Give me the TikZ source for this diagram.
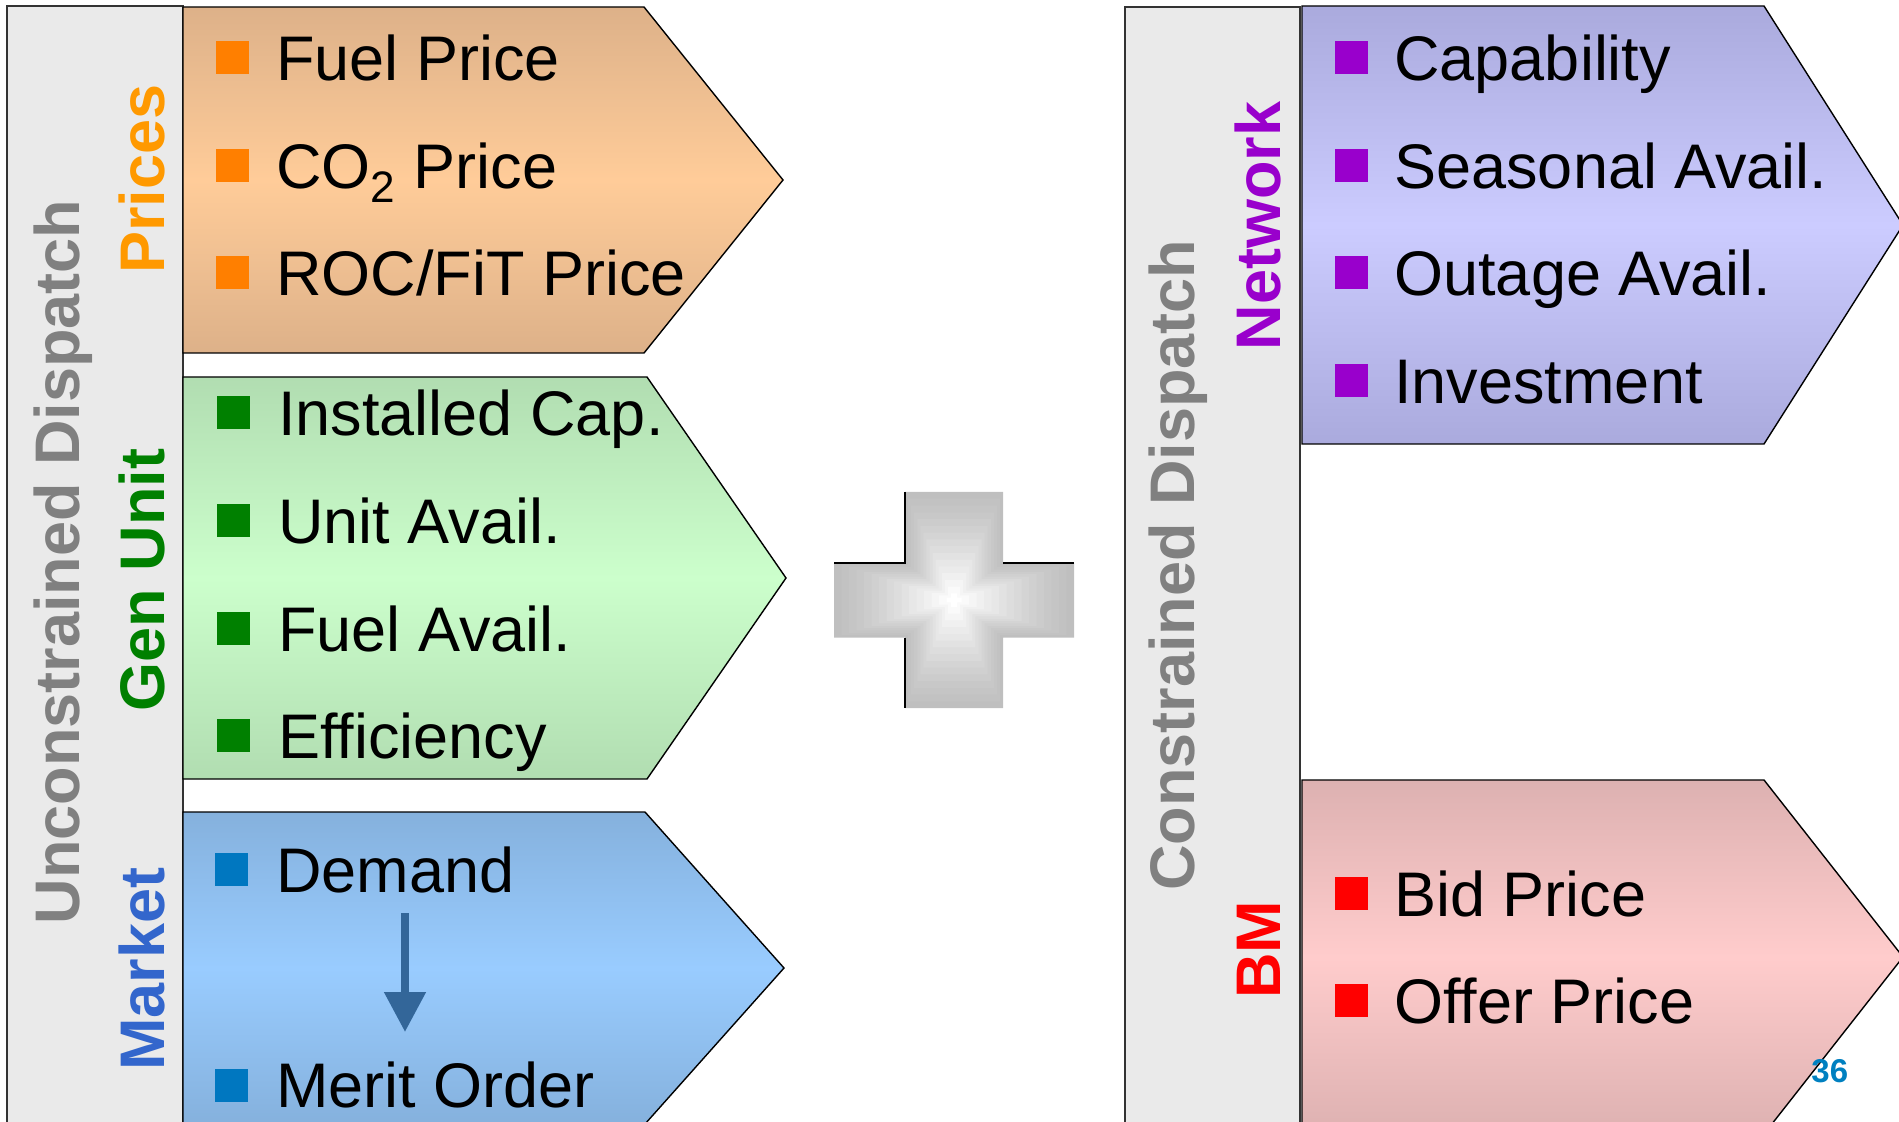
\documentclass[tikz,border=0pt]{standalone}
\usepackage{fontspec}
\setmainfont{Liberation Sans}
\usepackage{xcolor}
\usetikzlibrary{arrows.meta}

\definecolor{barfill}{HTML}{EAEAEA}
\definecolor{labelgray}{HTML}{808080}
\definecolor{priceedge}{HTML}{DDB189}
\definecolor{pricemid}{HTML}{FFCC99}
\definecolor{pricetag}{HTML}{FF9900}
\definecolor{pricebox}{HTML}{FF7F00}
\definecolor{genedge}{HTML}{B1DDB1}
\definecolor{genmid}{HTML}{CCFFCC}
\definecolor{gentag}{HTML}{008000}
\definecolor{mktedge}{HTML}{85B1DD}
\definecolor{mktmid}{HTML}{99CCFF}
\definecolor{mkttag}{HTML}{3366CC}
\definecolor{mktbox}{HTML}{0077C0}
\definecolor{netedge}{HTML}{AAAADD}
\definecolor{netmid}{HTML}{CCCCFF}
\definecolor{nettag}{HTML}{9900CC}
\definecolor{bmedge}{HTML}{DDB1B1}
\definecolor{bmmid}{HTML}{FFCCCC}
\definecolor{bmtag}{HTML}{FF0000}
\definecolor{flowblue}{HTML}{336699}
\definecolor{pagenum}{HTML}{0080C0}
\colorlet{plusedge}{black!25}

\begin{document}
\begin{tikzpicture}[x=0.5pt, y=-0.5pt,
  sidebar/.style={fill=barfill, draw=black!80, line width=0.8pt},
  chevron/.style={draw=black, line width=0.7pt},
  bullet/.style={rectangle, minimum size=16.5pt, inner sep=0pt},
  item/.style={anchor=base west, inner sep=0pt, font=\fontsize{31.5}{37}\selectfont},
  tag/.style={rotate=90, anchor=base, inner sep=0pt, font=\fontsize{31.5}{37}\selectfont\bfseries}]

  \useasboundingbox (0,0) rectangle (1899,1122);
  \clip (0,0) rectangle (1899,1122);

  % parameters
  \def\rowgap{107.5}

  % side bars
  \draw[sidebar] (7,6) rectangle (183,1140);
  \draw[sidebar] (1125,7) rectangle (1300,1140);

  % chevrons, left column
  \shadedraw[chevron, top color=priceedge, bottom color=priceedge, middle color=pricemid]
    (183,7) -- (644,7) -- (783,180) -- (644,353) -- (183,353) -- cycle;
  \shadedraw[chevron, top color=genedge, bottom color=genedge, middle color=genmid]
    (183,377) -- (647,377) -- (786,578) -- (647,779) -- (183,779) -- cycle;
  \shadedraw[chevron, top color=mktedge, bottom color=mktedge, middle color=mktmid]
    (183,812) -- (645,812) -- (784,968) -- (645,1124) -- (183,1124) -- cycle;

  % chevrons, right column
  \shadedraw[chevron, top color=netedge, bottom color=netedge, middle color=netmid]
    (1302,6) -- (1764,6) -- (1903,225) -- (1764,444) -- (1302,444) -- cycle;
  \shadedraw[chevron, top color=bmedge, bottom color=bmedge, middle color=bmmid]
    (1302,780) -- (1764,780) -- (1903,957) -- (1764,1134) -- (1302,1134) -- cycle;

  % --- Prices items
  \foreach \txt [count=\i] in {Fuel Price, CO\textsubscript{2} Price, ROC/FiT Price}{
    \node[bullet, fill=pricebox] (pricebox\i) at (232, 58+\i*\rowgap-\rowgap) {};
    \node[item] (price\i) at (276, 81+\i*\rowgap-\rowgap) {\txt};
  }

  % --- Gen Unit items
  \foreach \txt [count=\i] in {Installed Cap., Unit Avail., Fuel Avail., Efficiency}{
    \node[bullet, fill=gentag] (genbox\i) at (233, 413+\i*\rowgap-\rowgap) {};
    \node[item] (gen\i) at (278, 436+\i*\rowgap-\rowgap) {\txt};
  }

  % --- Market items
  \node[bullet, fill=mktbox] (demandbox) at (231,869) {};
  \node[item] (demand) at (276,892) {Demand};
  \node[bullet, fill=mktbox] (meritbox) at (231,1085) {};
  \node[item] (merit) at (276,1107) {Merit Order};
  \coordinate (flowtop) at (405,913);
  \coordinate (flowend) at (405,1032);
  \draw[flowblue, line width=4pt, -{Triangle[length=20pt, width=20pt]}] (flowtop) -- (flowend);

  % --- Network items
  \foreach \txt [count=\i] in {Capability, Seasonal Avail., Outage Avail., Investment}{
    \node[bullet, fill=nettag] (netbox\i) at (1351, 58+\i*\rowgap-\rowgap) {};
    \node[item] (net\i) at (1394, 81+\i*\rowgap-\rowgap) {\txt};
  }

  % --- BM items
  \foreach \txt [count=\i] in {Bid Price, Offer Price}{
    \node[bullet, fill=bmtag] (bmbox\i) at (1351, 893+\i*\rowgap-\rowgap) {};
    \node[item] (bm\i) at (1394, 916+\i*\rowgap-\rowgap) {\txt};
  }

  % vertical labels
  \node[tag, text=labelgray] (uncon) at (79,562) {Unconstrained Dispatch};
  \node[tag, text=pricetag] (pricestag) at (164,179) {Prices};
  \node[tag, text=gentag] (gentag) at (164,580) {Gen Unit};
  \node[tag, text=mkttag] (mkttag) at (164,969) {Market};
  \node[tag, text=labelgray] (con) at (1194,565) {Constrained Dispatch};
  \node[tag, text=nettag] (nettag) at (1280,226) {Network};
  \node[tag, text=bmtag] (bmtag) at (1280,950) {BM};

  % plus sign, stepped shading towards the centre
  \foreach \k in {0,...,15}{
    \pgfmathsetmacro\s{1-\k/16}
    \pgfmathsetmacro\w{100*(\k/15)^1.2}
    \begin{scope}[shift={(954,600)}, scale=\s]
      \fill[white!\w!plusedge] (-49,-108) -- (49,-108) -- (49,-37.5) -- (120,-37.5)
        -- (120,37.5) -- (49,37.5) -- (49,108) -- (-49,108) -- (-49,37.5)
        -- (-120,37.5) -- (-120,-37.5) -- (-49,-37.5) -- cycle;
    \end{scope}
  }
  \draw[black, line width=1pt] (905,492) -- (905,562.5) -- (834,562.5);
  \draw[black, line width=1pt] (1003,562.5) -- (1074,562.5);
  \draw[black, line width=1pt] (905,637.5) -- (905,708);

  % page number
  \node[anchor=base west, inner sep=0pt, text=pagenum, font=\fontsize{16.5}{18}\selectfont\bfseries]
    (pageno) at (1811,1082) {36};
\end{tikzpicture}
\end{document}
